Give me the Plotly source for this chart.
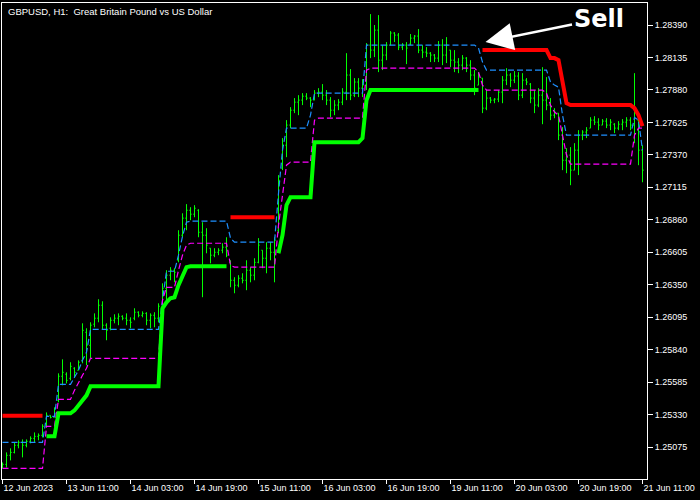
import plotly.graph_objects as go

# ---------------- data (GBPUSD H1) ----------------
tick_idx = [0, 16, 32, 48, 64, 80, 96, 112, 128, 144, 160]
tick_labels = ["12 Jun 2023", "13 Jun 11:00", "14 Jun 03:00", "14 Jun 19:00", "15 Jun 11:00",
               "16 Jun 03:00", "16 Jun 19:00", "19 Jun 11:00", "20 Jun 03:00", "20 Jun 19:00",
               "21 Jun 11:00"]
price_ticks = [1.25075, 1.25330, 1.25585, 1.25840, 1.26095, 1.26350, 1.26605, 1.26860,
               1.27115, 1.27370, 1.27625, 1.27880, 1.28135, 1.28390]

opens = [
 1.24923, 1.24939, 1.25010, 1.25033, 1.25089, 1.25112, 1.25089, 1.25120, 1.25143, 1.25159,
 1.25167, 1.25238, 1.25324, 1.25308, 1.25442, 1.25631, 1.25647, 1.25615, 1.25694, 1.25678,
 1.25756, 1.25976, 1.25874, 1.26040, 1.26087, 1.26189, 1.26032, 1.26008, 1.26071, 1.26087,
 1.26102, 1.26087, 1.26071, 1.26087, 1.26134, 1.26110, 1.26125, 1.26071, 1.26110, 1.26087,
 1.26181, 1.26322, 1.26425, 1.26464, 1.26542, 1.26739, 1.26873, 1.26935, 1.26904, 1.26935,
 1.26762, 1.26739, 1.26637, 1.26582, 1.26605, 1.26621, 1.26645, 1.26526, 1.26385, 1.26346,
 1.26401, 1.26385, 1.26464, 1.26425, 1.26526, 1.26621, 1.26558, 1.26637, 1.26605, 1.26778,
 1.27266, 1.27446, 1.27604, 1.27721, 1.27784, 1.27800, 1.27831, 1.27816, 1.27800, 1.27855,
 1.27863, 1.27839, 1.27800, 1.27721, 1.27761, 1.27784, 1.27863, 1.27997, 1.27839, 1.27942,
 1.27894, 1.27918, 1.28232, 1.28193, 1.28350, 1.28114, 1.28154, 1.28232, 1.28327, 1.28311,
 1.28217, 1.28232, 1.28240, 1.28287, 1.28303, 1.28193, 1.28177, 1.28169, 1.28154, 1.28130,
 1.28232, 1.28154, 1.28193, 1.28114, 1.28099, 1.28075, 1.28130, 1.28075, 1.27997, 1.27918,
 1.27973, 1.27737, 1.27816, 1.27800, 1.27808, 1.27863, 1.27957, 1.27997, 1.27957, 1.27989,
 1.27839, 1.27957, 1.27926, 1.27816, 1.27761, 1.27839, 1.27800, 1.27761, 1.27682, 1.27698,
 1.27525, 1.27328, 1.27368, 1.27250, 1.27407, 1.27525, 1.27549, 1.27580, 1.27643, 1.27627,
 1.27604, 1.27635, 1.27604, 1.27611, 1.27580, 1.27611, 1.27627, 1.27643, 1.27604, 1.27643,
 1.27407]

highs = [
 1.24954, 1.25033, 1.25065, 1.25112, 1.25128, 1.25135, 1.25135, 1.25159, 1.25190, 1.25182,
 1.25254, 1.25347, 1.25324, 1.25387, 1.25654, 1.25764, 1.25662, 1.25741, 1.25702, 1.25756,
 1.26047, 1.26008, 1.26055, 1.26125, 1.26236, 1.26220, 1.26047, 1.26094, 1.26118, 1.26125,
 1.26110, 1.26125, 1.26094, 1.26165, 1.26141, 1.26141, 1.26134, 1.26125, 1.26134, 1.26204,
 1.26361, 1.26464, 1.26488, 1.26480, 1.26778, 1.26911, 1.26983, 1.26959, 1.26975, 1.26943,
 1.26841, 1.26794, 1.26637, 1.26637, 1.26637, 1.26676, 1.26723, 1.26542, 1.26409, 1.26425,
 1.26440, 1.26542, 1.26488, 1.26558, 1.26716, 1.26621, 1.26684, 1.26684, 1.26723, 1.27211,
 1.27502, 1.27643, 1.27745, 1.27816, 1.27839, 1.27855, 1.27855, 1.27824, 1.27879, 1.27894,
 1.27926, 1.27879, 1.27824, 1.27800, 1.27808, 1.27894, 1.28169, 1.28044, 1.27973, 1.27973,
 1.27965, 1.28248, 1.28476, 1.28390, 1.28468, 1.28232, 1.28256, 1.28342, 1.28334, 1.28327,
 1.28248, 1.28256, 1.28319, 1.28311, 1.28358, 1.28232, 1.28217, 1.28177, 1.28162, 1.28264,
 1.28279, 1.28295, 1.28193, 1.28193, 1.28130, 1.28154, 1.28138, 1.28114, 1.28036, 1.28020,
 1.27973, 1.27879, 1.27824, 1.27816, 1.27879, 1.27989, 1.28051, 1.28012, 1.28028, 1.28020,
 1.28012, 1.27973, 1.27934, 1.27879, 1.27894, 1.28059, 1.27981, 1.27816, 1.27737, 1.27698,
 1.27588, 1.27423, 1.27431, 1.27462, 1.27564, 1.27564, 1.27588, 1.27666, 1.27674, 1.27658,
 1.27651, 1.27658, 1.27651, 1.27619, 1.27635, 1.27651, 1.27666, 1.27666, 1.28012, 1.27682,
 1.27446]

lows = [
 1.24907, 1.24915, 1.24970, 1.25025, 1.25065, 1.24994, 1.25073, 1.25104, 1.25112, 1.25128,
 1.25151, 1.25230, 1.25300, 1.25308, 1.25426, 1.25560, 1.25575, 1.25599, 1.25623, 1.25678,
 1.25733, 1.25717, 1.25772, 1.26016, 1.26055, 1.26000, 1.25914, 1.25992, 1.26047, 1.26032,
 1.26071, 1.26032, 1.26008, 1.26071, 1.26094, 1.26094, 1.26032, 1.26008, 1.26016, 1.26055,
 1.26149, 1.26228, 1.26385, 1.26369, 1.26526, 1.26723, 1.26778, 1.26857, 1.26880, 1.26723,
 1.26252, 1.26597, 1.26518, 1.26566, 1.26582, 1.26597, 1.26566, 1.26330, 1.26283, 1.26330,
 1.26361, 1.26307, 1.26369, 1.26385, 1.26518, 1.26480, 1.26440, 1.26542, 1.26369, 1.26755,
 1.27250, 1.27352, 1.27580, 1.27698, 1.27682, 1.27761, 1.27800, 1.27745, 1.27800, 1.27824,
 1.27800, 1.27761, 1.27666, 1.27682, 1.27721, 1.27761, 1.27800, 1.27800, 1.27824, 1.27824,
 1.27824, 1.27879, 1.28130, 1.28138, 1.28020, 1.28036, 1.28114, 1.28232, 1.28256, 1.28193,
 1.28193, 1.28083, 1.28232, 1.28248, 1.28169, 1.28130, 1.28138, 1.28099, 1.28099, 1.28099,
 1.28075, 1.28091, 1.28059, 1.28020, 1.28012, 1.28036, 1.28020, 1.27957, 1.27839, 1.27918,
 1.27698, 1.27721, 1.27776, 1.27776, 1.27784, 1.27776, 1.27918, 1.27902, 1.27934, 1.27800,
 1.27816, 1.27918, 1.27776, 1.27698, 1.27745, 1.27611, 1.27721, 1.27643, 1.27658, 1.27486,
 1.27250, 1.27226, 1.27132, 1.27250, 1.27211, 1.27486, 1.27502, 1.27580, 1.27604, 1.27564,
 1.27604, 1.27580, 1.27564, 1.27541, 1.27564, 1.27564, 1.27588, 1.27564, 1.27462, 1.27289,
 1.27155]

closes = [
 1.24939, 1.25010, 1.25033, 1.25089, 1.25112, 1.25089, 1.25120, 1.25143, 1.25159, 1.25167,
 1.25238, 1.25324, 1.25308, 1.25379, 1.25631, 1.25662, 1.25599, 1.25709, 1.25662, 1.25741,
 1.25992, 1.25874, 1.26032, 1.26087, 1.26189, 1.26032, 1.25992, 1.26071, 1.26087, 1.26102,
 1.26087, 1.26071, 1.26055, 1.26134, 1.26110, 1.26125, 1.26071, 1.26110, 1.26087, 1.26181,
 1.26322, 1.26425, 1.26464, 1.26448, 1.26739, 1.26873, 1.26935, 1.26904, 1.26951, 1.26762,
 1.26739, 1.26661, 1.26582, 1.26605, 1.26621, 1.26645, 1.26582, 1.26385, 1.26346, 1.26401,
 1.26385, 1.26464, 1.26425, 1.26526, 1.26661, 1.26558, 1.26637, 1.26605, 1.26700, 1.27171,
 1.27446, 1.27604, 1.27721, 1.27784, 1.27800, 1.27831, 1.27816, 1.27800, 1.27855, 1.27863,
 1.27839, 1.27800, 1.27721, 1.27761, 1.27784, 1.27863, 1.27997, 1.27839, 1.27942, 1.27894,
 1.27918, 1.28232, 1.28193, 1.28350, 1.28114, 1.28154, 1.28232, 1.28327, 1.28311, 1.28217,
 1.28232, 1.28209, 1.28287, 1.28303, 1.28193, 1.28177, 1.28169, 1.28154, 1.28130, 1.28232,
 1.28154, 1.28232, 1.28114, 1.28099, 1.28075, 1.28130, 1.28075, 1.27997, 1.27894, 1.27997,
 1.27737, 1.27816, 1.27800, 1.27808, 1.27863, 1.27957, 1.27997, 1.27957, 1.27989, 1.27839,
 1.27957, 1.27942, 1.27816, 1.27761, 1.27839, 1.27800, 1.27761, 1.27682, 1.27706, 1.27525,
 1.27328, 1.27368, 1.27250, 1.27407, 1.27525, 1.27549, 1.27564, 1.27643, 1.27627, 1.27604,
 1.27635, 1.27604, 1.27627, 1.27580, 1.27611, 1.27627, 1.27643, 1.27604, 1.27721, 1.27407,
 1.27250]

upper_band = [
 1.25112, 1.25112, 1.25112, 1.25112, 1.25112, 1.25112, 1.25112, 1.25112, 1.25112, 1.25112,
 1.25112, 1.25316, 1.25316, 1.25316, 1.25568, 1.25568, 1.25568, 1.25568, 1.25623, 1.25678,
 1.25756, 1.25819, 1.26000, 1.26000, 1.26000, 1.26000, 1.26000, 1.26000, 1.26000, 1.26000,
 1.26000, 1.26000, 1.26000, 1.26000, 1.26000, 1.26000, 1.26000, 1.26000, 1.26000, 1.26000,
 1.26228, 1.26456, 1.26456, 1.26456, 1.26582, 1.26731, 1.26841, 1.26849, 1.26849, 1.26849,
 1.26849, 1.26849, 1.26849, 1.26849, 1.26849, 1.26849, 1.26849, 1.26716, 1.26684, 1.26684,
 1.26684, 1.26684, 1.26684, 1.26684, 1.26684, 1.26684, 1.26684, 1.26684, 1.26684, 1.27069,
 1.27407, 1.27580, 1.27580, 1.27580, 1.27580, 1.27580, 1.27580, 1.27682, 1.27855, 1.27855,
 1.27855, 1.27855, 1.27855, 1.27855, 1.27855, 1.27855, 1.27855, 1.27855, 1.27855, 1.27855,
 1.27855, 1.28232, 1.28232, 1.28232, 1.28232, 1.28232, 1.28232, 1.28232, 1.28232, 1.28232,
 1.28232, 1.28232, 1.28232, 1.28232, 1.28232, 1.28232, 1.28232, 1.28232, 1.28232, 1.28232,
 1.28232, 1.28232, 1.28232, 1.28232, 1.28232, 1.28232, 1.28232, 1.28232, 1.28232, 1.28209,
 1.28099, 1.28036, 1.28036, 1.28036, 1.28036, 1.28036, 1.28036, 1.28036, 1.28036, 1.28036,
 1.28036, 1.28036, 1.28036, 1.28036, 1.28036, 1.28036, 1.28036, 1.27942, 1.27918, 1.27902,
 1.27682, 1.27525, 1.27525, 1.27525, 1.27525, 1.27525, 1.27525, 1.27525, 1.27525, 1.27525,
 1.27525, 1.27525, 1.27525, 1.27525, 1.27525, 1.27525, 1.27525, 1.27525, 1.27663, 1.27643,
 1.27407]

lower_band = [
 1.24907, 1.24907, 1.24907, 1.24907, 1.24907, 1.24907, 1.24907, 1.24907, 1.24907, 1.24907,
 1.24907, 1.25237, 1.25237, 1.25237, 1.25450, 1.25450, 1.25450, 1.25450, 1.25521, 1.25584,
 1.25639, 1.25694, 1.25772, 1.25772, 1.25772, 1.25772, 1.25772, 1.25772, 1.25772, 1.25772,
 1.25772, 1.25772, 1.25772, 1.25772, 1.25772, 1.25772, 1.25772, 1.25772, 1.25772, 1.25772,
 1.26228, 1.26330, 1.26330, 1.26330, 1.26464, 1.26582, 1.26661, 1.26676, 1.26676, 1.26676,
 1.26676, 1.26676, 1.26676, 1.26676, 1.26676, 1.26676, 1.26676, 1.26503, 1.26488, 1.26488,
 1.26488, 1.26488, 1.26488, 1.26488, 1.26488, 1.26488, 1.26488, 1.26488, 1.26488, 1.26817,
 1.27054, 1.27289, 1.27313, 1.27313, 1.27313, 1.27313, 1.27313, 1.27313, 1.27643, 1.27659,
 1.27659, 1.27659, 1.27659, 1.27659, 1.27659, 1.27659, 1.27659, 1.27659, 1.27659, 1.27659,
 1.27659, 1.28036, 1.28051, 1.28051, 1.28051, 1.28051, 1.28051, 1.28051, 1.28051, 1.28051,
 1.28051, 1.28051, 1.28051, 1.28051, 1.28051, 1.28051, 1.28051, 1.28051, 1.28051, 1.28051,
 1.28051, 1.28051, 1.28051, 1.28051, 1.28051, 1.28051, 1.28051, 1.28051, 1.28051, 1.28020,
 1.27918, 1.27879, 1.27879, 1.27879, 1.27879, 1.27879, 1.27879, 1.27879, 1.27879, 1.27879,
 1.27879, 1.27879, 1.27879, 1.27879, 1.27879, 1.27879, 1.27855, 1.27761, 1.27706, 1.27682,
 1.27525, 1.27368, 1.27297, 1.27297, 1.27297, 1.27297, 1.27297, 1.27297, 1.27297, 1.27297,
 1.27297, 1.27297, 1.27297, 1.27297, 1.27297, 1.27297, 1.27297, 1.27297, 1.27525, 1.27580,
 1.27580]

buy_stop = [
 None, None, None, None, None, None, None, None, None, None,
 None, 1.25159, 1.25159, 1.25159, 1.25340, 1.25340, 1.25340, 1.25340, 1.25363, 1.25403,
 1.25442, 1.25481, 1.25552, 1.25552, 1.25552, 1.25552, 1.25552, 1.25552, 1.25552, 1.25552,
 1.25552, 1.25552, 1.25552, 1.25552, 1.25552, 1.25552, 1.25552, 1.25552, 1.25552, 1.25552,
 1.26165, 1.26212, 1.26244, 1.26252, 1.26346, 1.26425, 1.26488, 1.26495, 1.26495, 1.26495,
 1.26495, 1.26495, 1.26495, 1.26495, 1.26495, 1.26495, 1.26495, None, None, None,
 None, None, None, None, None, None, None, None, None, 1.26597,
 1.26739, 1.26975, 1.27038, 1.27038, 1.27038, 1.27038, 1.27038, 1.27038, 1.27470, 1.27470,
 1.27470, 1.27470, 1.27470, 1.27470, 1.27470, 1.27470, 1.27470, 1.27470, 1.27470, 1.27470,
 1.27501, 1.27800, 1.27879, 1.27879, 1.27879, 1.27879, 1.27879, 1.27879, 1.27879, 1.27879,
 1.27879, 1.27879, 1.27879, 1.27879, 1.27879, 1.27879, 1.27879, 1.27879, 1.27879, 1.27879,
 1.27879, 1.27879, 1.27879, 1.27879, 1.27879, 1.27879, 1.27879, 1.27879, 1.27879, 1.27879,
 None, None, None, None, None, None, None, None, None, None,
 None, None, None, None, None, None, None, None, None, None,
 None, None, None, None, None, None, None, None, None, None,
 None, None, None, None, None, None, None, None, None, None,
 None]

sell_stop = [
 1.25320, 1.25320, 1.25320, 1.25320, 1.25320, 1.25320, 1.25320, 1.25320, 1.25320, 1.25320,
 1.25320, None, None, None, None, None, None, None, None, None,
 None, None, None, None, None, None, None, None, None, None,
 None, None, None, None, None, None, None, None, None, None,
 None, None, None, None, None, None, None, None, None, None,
 None, None, None, None, None, None, None, 1.26880, 1.26880, 1.26880,
 1.26880, 1.26880, 1.26880, 1.26880, 1.26880, 1.26880, 1.26880, 1.26880, 1.26880, None,
 None, None, None, None, None, None, None, None, None, None,
 None, None, None, None, None, None, None, None, None, None,
 None, None, None, None, None, None, None, None, None, None,
 None, None, None, None, None, None, None, None, None, None,
 None, None, None, None, None, None, None, None, None, None,
 1.28193, 1.28193, 1.28193, 1.28193, 1.28193, 1.28193, 1.28193, 1.28193, 1.28193, 1.28193,
 1.28193, 1.28193, 1.28193, 1.28193, 1.28193, 1.28193, 1.28193, 1.28130, 1.28130, 1.28114,
 1.27957, 1.27776, 1.27761, 1.27761, 1.27761, 1.27761, 1.27761, 1.27761, 1.27761, 1.27761,
 1.27761, 1.27761, 1.27761, 1.27761, 1.27761, 1.27761, 1.27761, 1.27761, 1.27737, 1.27682,
 1.27596]

sell_bar = 120
title_text = "GBPUSD, H1:\u00a0 Great Britain Pound vs US Dollar"

# ---------------- figure ----------------
bars = list(range(len(closes)))
fig = go.Figure()
fig.add_trace(go.Ohlc(
    x=bars, open=opens, high=highs, low=lows, close=closes,
    increasing=dict(line=dict(color="#00FF00", width=1)),
    decreasing=dict(line=dict(color="#00FF00", width=1)),
    tickwidth=0.3, hoverinfo="skip"))
fig.add_trace(go.Scatter(x=bars, y=upper_band, mode="lines",
                         line=dict(color="#1E90FF", width=1.2, dash="6px,3px")))
fig.add_trace(go.Scatter(x=bars, y=lower_band, mode="lines",
                         line=dict(color="#FF00FF", width=1.2, dash="6px,3px")))
fig.add_trace(go.Scatter(x=bars, y=buy_stop, mode="lines", connectgaps=False,
                         line=dict(color="#00FF00", width=4)))
fig.add_trace(go.Scatter(x=bars, y=sell_stop, mode="lines", connectgaps=False,
                         line=dict(color="#FF0000", width=4)))

fig.add_annotation(
    x=sell_bar, y=sell_stop[sell_bar], xref="x", yref="y",
    xshift=3, yshift=8,
    text="<b>Sell</b>", font=dict(family="DejaVu Sans", size=24, color="white"),
    showarrow=True, arrowhead=2, arrowsize=2.2, arrowwidth=2.5, arrowcolor="white",
    ax=113, ay=-23)
fig.add_annotation(
    x=0, y=1, xref="paper", yref="paper", xanchor="left", yanchor="top",
    xshift=4, yshift=-1, showarrow=False, text=title_text,
    font=dict(family="Liberation Sans", size=9.5, color="white"))

fig.update_layout(
    width=700, height=500, showlegend=False,
    paper_bgcolor="black", plot_bgcolor="black",
    margin=dict(l=2, r=53, t=3, b=21),
    font=dict(family="Liberation Sans", size=9, color="white"),
    xaxis=dict(range=[-0.125, 161.125], tickvals=tick_idx, ticktext=tick_labels,
               ticks="outside", ticklen=4, tickcolor="white", ticklabelposition="outside right",
               showline=True, linecolor="white", linewidth=1, mirror=True,
               showgrid=False, zeroline=False, rangeslider=dict(visible=False),
               tickfont=dict(family="Liberation Sans", size=9, color="white")),
    yaxis=dict(range=[1.24824, 1.28563], side="right", tickvals=price_ticks,
               ticktext=[f"{v:.5f}" for v in price_ticks],
               ticks="outside", ticklen=5, tickcolor="white",
               showline=True, linecolor="white", linewidth=1, mirror=True,
               showgrid=False, zeroline=False,
               tickfont=dict(family="Liberation Sans", size=9, color="white")),
)
fig.write_html("out.html", config={"displayModeBar": False},
               post_script="document.body.style.margin='0';document.body.style.background='black';")
